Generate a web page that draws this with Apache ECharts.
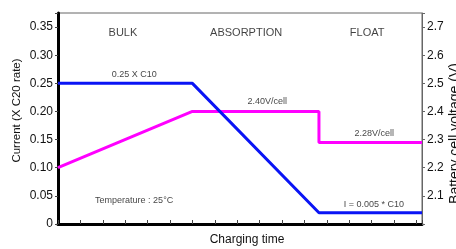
<!DOCTYPE html>
<html>
<head>
<meta charset="utf-8">
<script src="https://cdn.jsdelivr.net/npm/echarts@6/dist/echarts.min.js"></script>
<style>
  html, body { margin: 0; padding: 0; background: #fff; }
  #chart { width: 456px; height: 249px; }
</style>
</head>
<body>
<div id="chart"></div>
<script>
// charging time (arbitrary units, one minor tick per unit)
var currentTime = [0, 6, 11.65, 16.25]
var currentVal = [0.25, 0.25, 0.02, 0.02]
var voltTime = [0, 6, 11.65, 11.65, 16.25]
var voltVal = [2.2, 2.4, 2.4, 2.29, 2.29]

var noteText = ['BULK', 'ABSORPTION', 'FLOAT', '0.25 X C10', '2.40V/cell', '2.28V/cell', 'I = 0.005 * C10', 'Temperature : 25°C']
var noteX = [2.9, 8.4, 13.8, 3.4, 9.34, 14.12, 14.1, 3.4]
var noteY = [0.339, 0.339, 0.339, 0.2665, 0.2168, 0.16, 0.0355, 0.041]
var noteSize = [11, 11, 11, 9, 9, 9, 9, 9]

var FONT = '"Liberation Sans", Arial, sans-serif'

var chart = echarts.init(document.getElementById('chart'))

var notes = noteText.map(function(t, i) {
  return {
    value: [noteX[i], noteY[i]],
    label: { fontSize: noteSize[i] },
    name: t
  }
})

var option = {
  animation: false,
  grid: {
    left: 58, right: 34, top: 13, bottom: 25,
    outerBoundsMode: 'none',
    containLabel: false,
    show: true, borderColor: '#666', borderWidth: 1
  },
  xAxis: {
    type: 'value',
    min: 0,
    max: 16.25,
    interval: 1,
    name: 'Charging time',
    nameLocation: 'middle',
    nameGap: 10,
    nameMoveOverlap: false,
    nameTextStyle: { color: '#111', fontSize: 12, fontFamily: FONT, padding: [0, 0, 0, 14] },
    axisLine: { lineStyle: { color: '#000', width: 3 } },
    axisTick: { inside: true, length: 4, lineStyle: { color: '#444', width: 1 } },
    axisLabel: { show: false },
    splitLine: { show: false }
  },
  yAxis: [{
    type: 'value',
    min: 0,
    max: 0.375,
    interval: 0.05,
    name: 'Current (X C20 rate)',
    nameLocation: 'middle',
    nameRotate: 90,
    nameGap: 35,
    nameMoveOverlap: false,
    nameTextStyle: { color: '#111', fontSize: 11.5, fontFamily: FONT, padding: [0, 0, 0, 16] },
    axisLine: { show: true, lineStyle: { color: '#000', width: 3 } },
    axisTick: { length: 3, lineStyle: { color: '#444', width: 1 } },
    axisLabel: {
      color: '#111', fontSize: 12, fontFamily: FONT, margin: 5,
      formatter: function(v) {
        if (v > 0.36) return ''
        return v === 0 ? '0' : v.toFixed(2)
      }
    },
    splitLine: { show: false }
  }, {
    type: 'value',
    min: 2.0,
    max: 2.75,
    interval: 0.1,
    position: 'right',
    name: 'Battery cell voltage (V)',
    nameLocation: 'middle',
    nameRotate: 90,
    nameGap: 26,
    nameMoveOverlap: false,
    nameTextStyle: { color: '#111', fontSize: 14, fontFamily: FONT, padding: [0, 30, 0, 0] },
    axisLine: { show: true, lineStyle: { color: '#666', width: 1 } },
    axisTick: { length: 3, lineStyle: { color: '#666', width: 1 } },
    axisLabel: {
      color: '#111', fontSize: 12, fontFamily: FONT, margin: 5,
      formatter: function(v) {
        if (v < 2.05 || v > 2.72) return ''
        return v.toFixed(1)
      }
    },
    splitLine: { show: false }
  }],
  series: [{
    name: 'current',
    type: 'line',
    yAxisIndex: 0,
    data: currentTime.map(function(t, i) { return [t, currentVal[i]] }),
    showSymbol: false,
    lineStyle: { color: '#0a14f5', width: 3 },
    z: 3
  }, {
    name: 'voltage',
    type: 'line',
    yAxisIndex: 1,
    data: voltTime.map(function(t, i) { return [t, voltVal[i]] }),
    showSymbol: false,
    lineStyle: { color: '#ff00ff', width: 3 },
    z: 2
  }, {
    name: 'notes',
    type: 'scatter',
    yAxisIndex: 0,
    data: notes,
    symbolSize: 1,
    itemStyle: { color: 'rgba(0,0,0,0)' },
    label: {
      show: true,
      position: 'inside',
      color: '#111',
      fontFamily: FONT,
      formatter: function(p) { return p.name }
    },
    z: 5
  }]
}

chart.setOption(option)
</script>
</body>
</html>
